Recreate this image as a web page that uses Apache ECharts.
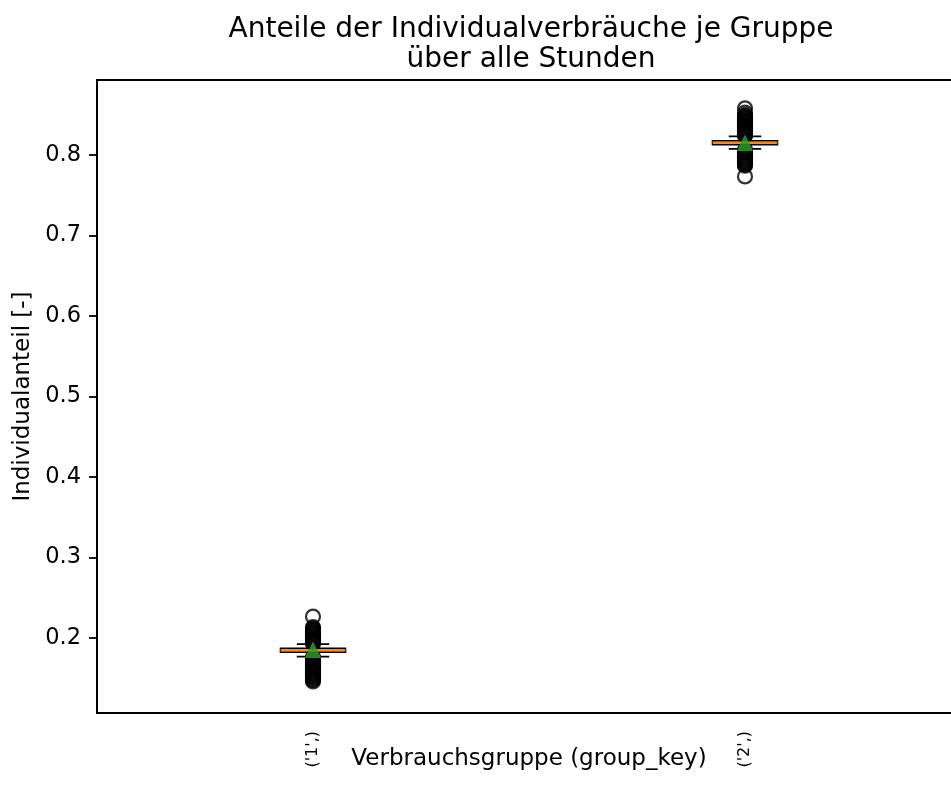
<!DOCTYPE html>
<html>
<head>
<meta charset="utf-8">
<script src="https://cdn.jsdelivr.net/npm/echarts@6/dist/echarts.min.js"></script>
<style>
  html, body { margin: 0; padding: 0; background: #fff; }
  #chart { width: 951px; height: 798px; }
</style>
</head>
<body>
<div id="chart"></div>
<script>
// Groups on the x axis
const categories = ["('1',)", "('2',)"];

// Box statistics per group: [lower whisker, Q1, median, Q3, upper whisker]
const boxGroup1 = [0.1770, 0.1825, 0.1848, 0.1872, 0.1925];
const boxGroup2 = [0.8075, 0.8128, 0.8152, 0.8175, 0.8230];

// Mean share per group
const means = [0.1852, 0.8148];

// Outliers beyond the whiskers
const outliersGroup1 = [
  0.2267, 0.2136, 0.2122, 0.2109, 0.2096, 0.2083, 0.2071, 0.2058, 0.2049, 0.2037,
  0.2023, 0.2016, 0.2004, 0.1991, 0.1985, 0.1972, 0.1960, 0.1953, 0.1941, 0.1932,
  0.1761, 0.1749, 0.1738, 0.1727, 0.1714, 0.1703, 0.1690, 0.1679, 0.1668, 0.1657,
  0.1645, 0.1632, 0.1624, 0.1611, 0.1598, 0.1589, 0.1577, 0.1563, 0.1556, 0.1544,
  0.1531, 0.1519, 0.1508, 0.1492, 0.1478, 0.1462
];
const outliersGroup2 = [
  0.8578, 0.8526, 0.8497, 0.8481, 0.8468, 0.8456, 0.8444, 0.8431, 0.8419, 0.8408,
  0.8395, 0.8386, 0.8373, 0.8361, 0.8352, 0.8339, 0.8326, 0.8318, 0.8305, 0.8293,
  0.8284, 0.8272, 0.8258, 0.8249, 0.8236,
  0.8062, 0.8049, 0.8036, 0.8024, 0.8011, 0.7998, 0.7989, 0.7977, 0.7964, 0.7955,
  0.7942, 0.7929, 0.7917, 0.7905, 0.7892, 0.7879, 0.7866, 0.7733
];

// Y axis tick labels
const yTicks = [0.2, 0.3, 0.4, 0.5, 0.6, 0.7, 0.8];

const FONT = 'DejaVu Sans';
const LW = 1.8;

const boxData = [[0].concat(boxGroup1), [1].concat(boxGroup2)];
const flierData = outliersGroup1.map(v => [0, v]).concat(outliersGroup2.map(v => [1, v]));
const meanData = means.map((v, i) => [i, v]);

// Box width as a fraction of the category band
const BOX_FRAC = 0.15;

function renderBox(params, api) {
  const cat = api.value(0);
  const lo = api.value(1), q1 = api.value(2), q3 = api.value(4), hi = api.value(5);
  const bw = api.size([1, 0])[0] * BOX_FRAC;
  const x = api.coord([cat, q1])[0];
  const yLo = api.coord([cat, lo])[1];
  const yQ1 = api.coord([cat, q1])[1];
  const yQ3 = api.coord([cat, q3])[1];
  const yHi = api.coord([cat, hi])[1];
  const st = { stroke: '#000', lineWidth: LW, fill: null };
  const line = (x1, y1, x2, y2) => ({ type: 'line', shape: { x1, y1, x2, y2 }, style: st });
  return {
    type: 'group',
    children: [
      line(x, yQ1, x, yLo),
      line(x, yQ3, x, yHi),
      line(x - bw / 4, yLo, x + bw / 4, yLo),
      line(x - bw / 4, yHi, x + bw / 4, yHi),
      { type: 'rect', shape: { x: x - bw / 2, y: yQ3, width: bw, height: yQ1 - yQ3 }, style: st }
    ]
  };
}

function renderMedian(params, api) {
  const cat = api.value(0);
  const med = api.value(3);
  const bw = api.size([1, 0])[0] * BOX_FRAC;
  const p = api.coord([cat, med]);
  return {
    type: 'line',
    shape: { x1: p[0] - bw / 2, y1: p[1], x2: p[0] + bw / 2, y2: p[1] },
    style: { stroke: '#ff7f0e', lineWidth: 2.3 }
  };
}

const chart = echarts.init(document.getElementById('chart'), null, { renderer: 'canvas' });
chart.setOption({
  animation: false,
  backgroundColor: '#fff',
  title: {
    text: 'Anteile der Individualverbräuche je Gruppe\nüber alle Stunden',
    left: 526,
    top: 10,
    textAlign: 'center',
    textStyle: { fontFamily: FONT, fontSize: 28, fontWeight: 'normal', color: '#000', lineHeight: 30 }
  },
  grid: {
    left: 97, top: 80, width: 864, height: 633,
    outerBoundsMode: 'none',
    containLabel: false,
    show: true, borderColor: '#000', borderWidth: LW, backgroundColor: 'transparent'
  },
  xAxis: {
    type: 'category',
    data: categories,
    boundaryGap: true,
    name: 'Verbrauchsgruppe (group_key)',
    nameLocation: 'middle',
    nameGap: 35,
    nameMoveOverlap: false,
    nameTextStyle: { fontFamily: FONT, fontSize: 23, color: '#000' },
    axisLine: { lineStyle: { color: '#000', width: LW } },
    axisTick: { alignWithLabel: true, length: 8, lineStyle: { color: '#000', width: LW } },
    axisLabel: { rotate: 90, margin: 18, fontFamily: FONT, fontSize: 16, color: '#000' },
    splitLine: { show: false }
  },
  yAxis: {
    type: 'value',
    min: 0.107,
    max: 0.893,
    name: 'Individualanteil [-]',
    nameLocation: 'middle',
    nameGap: 62,
    nameMoveOverlap: false,
    nameTextStyle: { fontFamily: FONT, fontSize: 23, color: '#000' },
    axisLine: { show: true, lineStyle: { color: '#000', width: LW } },
    axisTick: { show: true, length: 8, customValues: yTicks, lineStyle: { color: '#000', width: LW } },
    axisLabel: { customValues: yTicks, margin: 16, fontFamily: FONT, fontSize: 22.5, color: '#000',
                 formatter: v => v.toFixed(1) },
    splitLine: { show: false }
  },
  series: [
    {
      type: 'custom',
      z: 2,
      renderItem: renderBox,
      data: boxData,
      encode: { x: 0, y: [1, 2, 3, 4, 5] }
    },
    {
      type: 'scatter',
      z: 3,
      symbol: 'circle',
      symbolSize: 14,
      itemStyle: { color: 'rgba(0,0,0,0)', borderColor: '#000', borderWidth: 2.2 },
      data: flierData
    },
    {
      type: 'custom',
      z: 4,
      renderItem: renderMedian,
      data: boxData,
      encode: { x: 0, y: [1, 2, 3, 4, 5] }
    },
    {
      type: 'scatter',
      z: 5,
      symbol: 'triangle',
      symbolSize: 15,
      itemStyle: { color: '#2ca02c', borderColor: '#2ca02c', borderWidth: 1 },
      data: meanData
    }
  ]
});
</script>
</body>
</html>
